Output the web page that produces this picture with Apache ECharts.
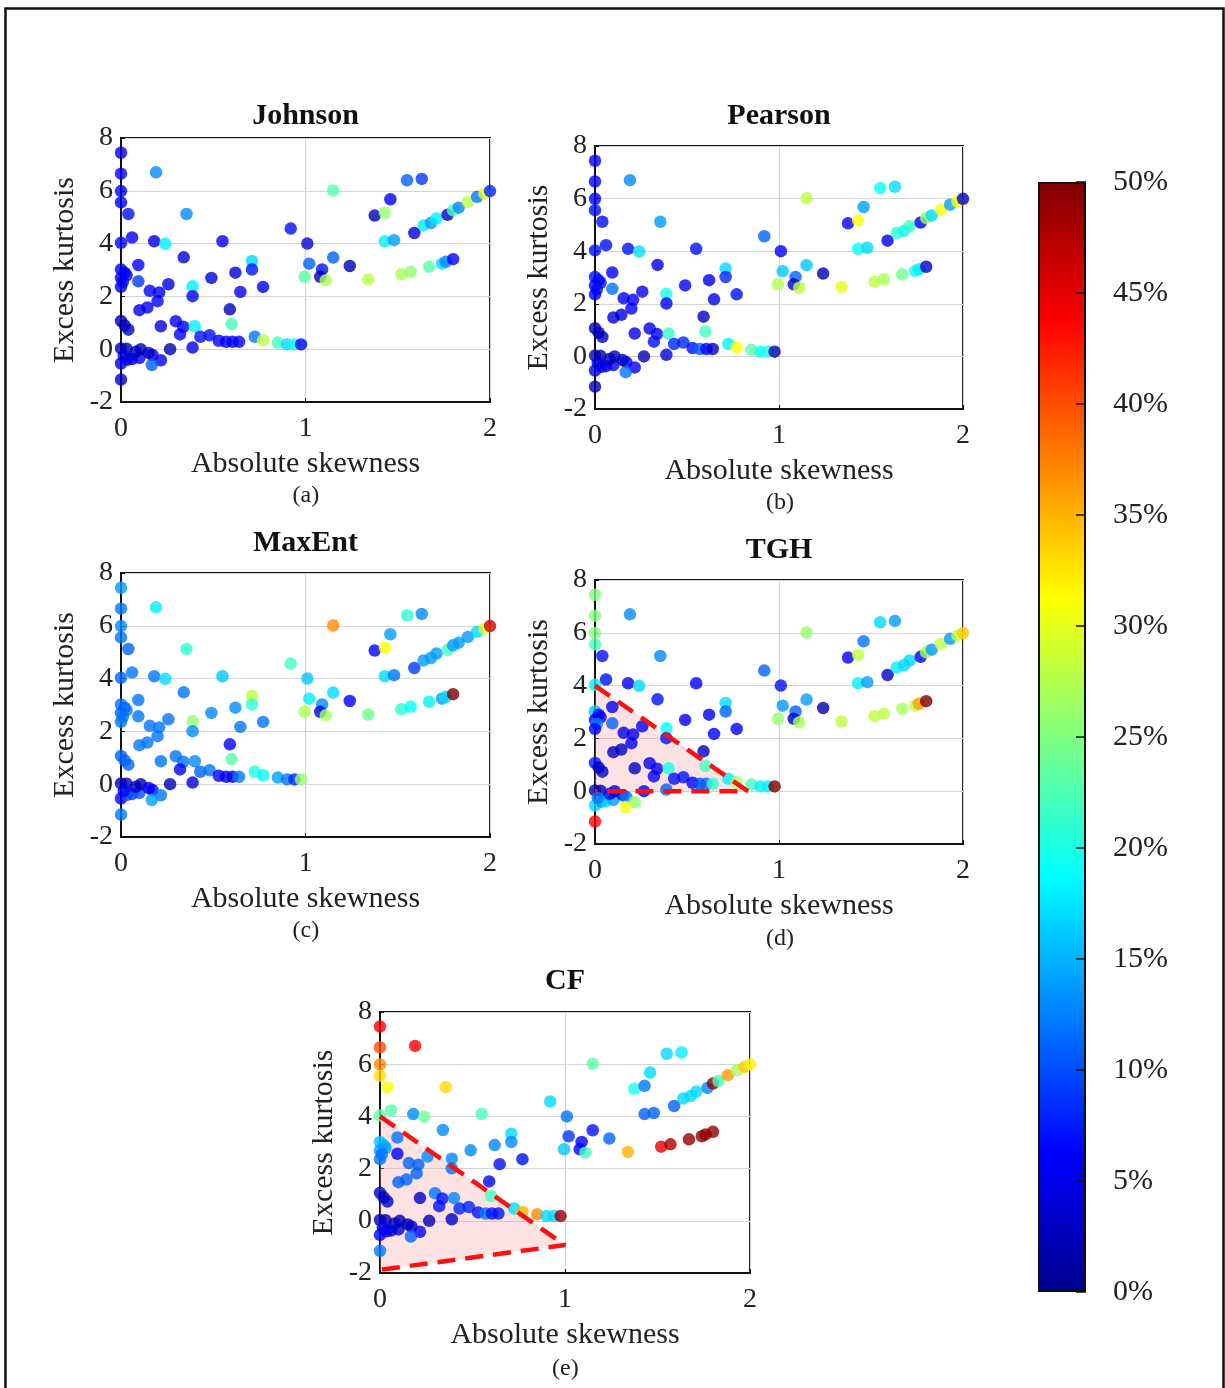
<!DOCTYPE html>
<html>
<head>
<meta charset="utf-8">
<script src="https://cdn.jsdelivr.net/npm/echarts@6/dist/echarts.min.js"></script>
<style>
  html, body { margin: 0; padding: 0; background: #fff; }
  #chart { width: 1225px; height: 1388px; }
</style>
</head>
<body>
<div id="chart"></div>
<script>
// Sample moments shared by all five panels
const skew = [
  0, 0, 0, 0, 0.04, 0.19, 0.355, 0, 0.06, 0.18,
  0.24, 0.55, 0.34, 0.094, 0, 0.02, 0.03, 0, 0.01, 0,
  0.094, 0.156, 0.207, 0.198, 0.257, 0.10, 0.143, 0.388, 0.388, 0.49,
  0.62, 0.647, 0.71, 0.71, 0.77, 0.59, 0.60, 0, 0.02, 0.04,
  0.216, 0.297, 0.337, 0.32, 0.40, 0.43, 0.48, 0.53, 0.57, 0.605,
  0.64, 0.725, 0.77, 0.85, 0.90, 0.94, 0.976, 0, 0.03, 0,
  0.035, 0.06, 0.10, 0.107, 0.15, 0.17, 0.216, 0.167, 0.266, 0.388,
  0, 0.015, 0.08, 0.92, 1.01, 1.02, 1.09, 1.08, 1.11, 0.995,
  1.15, 1.24, 1.34, 1.15, 1.375, 1.43, 1.46, 1.55, 1.63, 1.43,
  1.48, 1.59, 1.64, 1.68, 1.71, 1.77, 1.80, 1.83, 1.88, 1.93,
  1.97, 2.0, 1.52, 1.57, 1.67, 1.74, 1.76, 1.80
];
const kurt = [
  7.44, 6.65, 5.99, 5.56, 5.12, 6.70, 5.12, 4.03, 4.23, 4.09,
  3.99, 4.09, 3.48, 3.19, 3.02, 2.90, 2.80, 2.70, 2.55, 2.36,
  2.57, 2.21, 2.15, 1.82, 2.46, 1.48, 1.58, 2.38, 2.01, 2.70,
  2.90, 2.17, 3.34, 3.02, 2.36, 1.51, 0.95, 1.07, 0.90, 0.74,
  0.87, 1.06, 0.85, 0.56, 0.87, 0.47, 0.53, 0.32, 0.28, 0.28,
  0.28, 0.47, 0.34, 0.25, 0.18, 0.18, 0.18, 0.03, 0.02, -0.54,
  -0.40, -0.37, -0.33, 0.0, -0.14, -0.22, -0.42, -0.60, 0.0, 0.06,
  -1.15, -0.25, -0.10, 4.57, 4.0, 3.24, 3.02, 2.74, 2.61, 2.74,
  3.47, 3.15, 2.64, 6.01, 5.06, 5.17, 5.68, 6.40, 6.45, 4.09,
  4.13, 4.40, 4.69, 4.78, 4.95, 5.09, 5.26, 5.36, 5.58, 5.77,
  5.89, 5.99, 2.84, 2.93, 3.12, 3.24, 3.31, 3.41
];

// Relative error (%) of each method at every sample
const errJohnson = [
  5, 6, 6, 6, 7, 13, 13, 6, 6, 5,
  18, 6, 4, 6, 5, 6, 6, 5, 6, 5,
  9, 6, 5, 6, 5, 5, 5, 18, 6, 4,
  4, 6, 17, 7, 6, 2, 22, 2, 2, 3,
  4, 5, 6, 6, 18, 7, 7, 6, 6, 6,
  6, 12, 28, 22, 17, 19, 6, 2, 2, 5,
  5, 5, 5, 2, 3, 4, 6, 11, 2, 5,
  3, 4, 3, 7, 4, 11, 7, 2, 27, 23,
  11, 2, 28, 23, 2, 26, 6, 11, 9, 18,
  14, 4, 18, 14, 18, 3, 22, 13, 28, 12,
  30, 8, 27, 26, 23, 17, 13, 6
];
const errPearson = [
  6, 6, 6, 7, 7, 13, 14, 7, 7, 7,
  17, 7, 5, 6, 7, 7, 7, 6, 7, 6,
  12, 6, 6, 6, 6, 4, 4, 20, 6, 6,
  5, 6, 17, 8, 7, 3, 22, 2, 2, 3,
  5, 5, 6, 7, 21, 8, 8, 7, 11, 6,
  3, 18, 31, 23, 19, 20, 2, 2, 2, 5,
  5, 5, 5, 2, 3, 4, 6, 12, 2, 4,
  2, 4, 3, 11, 6, 16, 11, 3, 28, 27,
  16, 2, 30, 28, 6, 31, 14, 19, 17, 19,
  17, 5, 21, 19, 21, 5, 26, 17, 31, 14,
  31, 3, 28, 27, 24, 19, 18, 3
];
const errMaxEnt = [
  14, 12, 13, 12, 11, 18, 21, 11, 12, 12,
  17, 16, 12, 12, 12, 11, 12, 11, 12, 12,
  12, 12, 12, 12, 12, 12, 12, 26, 13, 13,
  13, 12, 28, 21, 12, 6, 23, 11, 11, 11,
  12, 12, 12, 6, 13, 11, 12, 6, 5, 5,
  12, 20, 19, 14, 12, 8, 26, 2, 2, 6,
  10, 10, 10, 2, 6, 6, 12, 14, 2, 4,
  12, 6, 3, 22, 16, 18, 13, 5, 27, 27,
  17, 6, 24, 37, 6, 31, 14, 21, 13, 17,
  12, 9, 14, 14, 14, 22, 14, 14, 14, 17,
  29, 46, 21, 19, 18, 14, 17, 50
];
const errTGH = [
  25, 25, 25, 22, 7, 13, 13, 18, 7, 6,
  17, 6, 7, 6, 16, 6, 6, 6, 13, 6,
  11, 5, 5, 5, 6, 3, 3, 19, 7, 6,
  5, 6, 17, 11, 6, 3, 22, 7, 3, 3,
  3, 5, 6, 6, 20, 7, 7, 6, 10, 11,
  21, 18, 27, 22, 18, 18, 50, 2, 2, 17,
  14, 17, 14, 3, 5, 12, 26, 31, 5, 11,
  44, 12, 6, 11, 7, 14, 11, 3, 27, 26,
  14, 2, 28, 26, 6, 28, 12, 17, 14, 18,
  14, 3, 18, 17, 17, 6, 27, 14, 28, 14,
  28, 34, 28, 28, 27, 28, 36, 50
];
const errCF = [
  44, 40, 37, 33, 31, 44, 33, 23, 23, 13,
  24, 22, 13, 12, 16, 15, 14, 14, 12, 12,
  6, 11, 11, 11, 13, 11, 11, 13, 12, 13,
  13, 7, 17, 13, 7, 6, 22, 3, 3, 3,
  3, 12, 7, 7, 13, 8, 8, 7, 12, 7,
  7, 17, 35, 37, 17, 17, 49, 2, 2, 6,
  5, 5, 3, 2, 3, 3, 6, 11, 2, 3,
  12, 5, 3, 17, 12, 9, 6, 6, 22, 16,
  7, 11, 35, 23, 20, 12, 17, 17, 18, 11,
  11, 11, 17, 17, 17, 13, 49, 22, 36, 27,
  34, 32, 45, 48, 49, 49, 49, 49
];

const methods = ['Johnson', 'Pearson', 'MaxEnt', 'TGH', 'CF'];
const panelTags = ['(a)', '(b)', '(c)', '(d)', '(e)'];
const errors = [errJohnson, errPearson, errMaxEnt, errTGH, errCF];

// Validity regions (outline vertices) for TGH and CF
const regionTGH = [[0, 4], [0.83, 0], [0, 0]];
const regionCF = [[0, 4], [1, -0.93], [0, -1.88]];

// Colour bar ticks
const cbarMin = 0, cbarMax = 50, cbarStep = 5;

const xTicks = { min: 0, max: 2, interval: 1 };
const yTicks = { min: -2, max: 8, interval: 2 };

const jet = ['#00008f', '#0000ff', '#0080ff', '#00ffff', '#80ff80',
             '#ffff00', '#ff8000', '#ff0000', '#800000'];

const FONT = 'Liberation Serif';

// Panel placement
const panels = [
  { left: 121, top: 138, width: 369, height: 264, titleY: 101, tagY: 497 },
  { left: 595, top: 146, width: 368, height: 263, titleY: 101, tagY: 504 },
  { left: 121, top: 573, width: 369, height: 264, titleY: 528, tagY: 932 },
  { left: 595, top: 580, width: 368, height: 264, titleY: 535, tagY: 940 },
  { left: 380, top: 1012, width: 370, height: 261, titleY: 966, tagY: 1370 }
];

const grid = [], xAxis = [], yAxis = [], series = [], title = [], graphic = [];
const scatterIdx = [];

panels.forEach((p, i) => {
  grid.push({ left: p.left, top: p.top, width: p.width, height: p.height,
              show: true, borderColor: '#111', borderWidth: 2, backgroundColor: 'transparent' });
  xAxis.push({
    gridIndex: i, type: 'value', min: xTicks.min, max: xTicks.max, interval: xTicks.interval,
    axisLine: { show: true, onZero: false, lineStyle: { color: '#111', width: 2 } },
    axisTick: { show: true, inside: true, length: 4, lineStyle: { color: '#111' } },
    axisLabel: { fontFamily: FONT, fontSize: 28, color: '#222', margin: 13 },
    splitLine: { show: true, lineStyle: { color: '#d4d4d4', width: 1.2 } },
    name: 'Absolute skewness', nameLocation: 'middle', nameGap: 47,
    nameTextStyle: { fontFamily: FONT, fontSize: 30, color: '#222' }
  });
  yAxis.push({
    gridIndex: i, type: 'value', min: yTicks.min, max: yTicks.max, interval: yTicks.interval,
    axisLine: { show: true, onZero: false, lineStyle: { color: '#111', width: 2 } },
    axisTick: { show: true, inside: true, length: 4, lineStyle: { color: '#111' } },
    axisLabel: { fontFamily: FONT, fontSize: 28, color: '#222', margin: 8 },
    splitLine: { show: true, lineStyle: { color: '#d4d4d4', width: 1.2 } },
    name: 'Excess kurtosis', nameLocation: 'middle', nameGap: 41,
    nameTextStyle: { fontFamily: FONT, fontSize: 30, color: '#222' }
  });
  title.push({
    text: methods[i], left: p.left + p.width / 2, top: p.titleY, textAlign: 'center', padding: 0,
    textStyle: { fontFamily: FONT, fontSize: 30, fontWeight: 'bold', color: '#111' }
  });
  graphic.push({
    type: 'text', left: p.left + p.width / 2 - 13, top: p.tagY - 13,
    style: { text: panelTags[i], font: '24px "Liberation Serif"', fill: '#222' }
  });

  const region = i === 3 ? regionTGH : (i === 4 ? regionCF : null);
  if (region) {
    series.push({
      type: 'custom', xAxisIndex: i, yAxisIndex: i, z: 1, silent: true,
      data: [0],
      renderItem: (params, api) => ({
        type: 'polygon',
        shape: { points: region.map(v => api.coord(v)) },
        style: { fill: 'rgba(245,160,160,0.3)' }
      })
    });
  }

  scatterIdx.push(series.length);
  series.push({
    type: 'scatter', xAxisIndex: i, yAxisIndex: i, z: 3,
    symbolSize: 12.5,
    data: skew.map((s, k) => [s, kurt[k], errors[i][k]])
  });

  if (region) {
    series.push({
      type: 'line', xAxisIndex: i, yAxisIndex: i, z: 4, silent: true,
      symbol: 'none',
      lineStyle: { color: '#ff1010', width: 4.5, type: [18, 10] },
      data: region
    });
  }
});

// Colour bar
grid.push({ left: 1038, top: 182, width: 48, height: 1110 });
xAxis.push({ gridIndex: 5, type: 'category', data: ['e'], show: false });
yAxis.push({
  gridIndex: 5, type: 'value', min: cbarMin, max: cbarMax, interval: cbarStep,
  position: 'right', z: 10,
  axisLine: { show: false },
  axisTick: { show: true, inside: true, length: 10, lineStyle: { color: '#111', width: 1.5 } },
  axisLabel: { fontFamily: FONT, fontSize: 30, color: '#222', margin: 27, formatter: '{value}%' },
  splitLine: { show: false }
});
series.push({
  type: 'bar', xAxisIndex: 5, yAxisIndex: 5, barWidth: '100%', silent: true,
  data: [cbarMax],
  itemStyle: {
    borderColor: '#111', borderWidth: 2,
    color: {
      type: 'linear', x: 0, y: 1, x2: 0, y2: 0,
      colorStops: jet.map((c, k) => ({ offset: k / (jet.length - 1), color: c }))
    }
  }
});

// Outer frame
graphic.push({
  type: 'rect', left: 3, top: 6, z: 100, silent: true,
  shape: { width: 1218, height: 1400 },
  style: { fill: 'none', stroke: '#111', lineWidth: 2.5 }
});

const chart = echarts.init(document.getElementById('chart'), null, { renderer: 'canvas' });
chart.setOption({
  animation: false,
  backgroundColor: '#fff',
  title, grid, xAxis, yAxis, series, graphic,
  visualMap: {
    type: 'continuous', show: false, min: cbarMin, max: cbarMax, dimension: 2,
    seriesIndex: scatterIdx,
    inRange: { color: jet }
  }
});
</script>
</body>
</html>
